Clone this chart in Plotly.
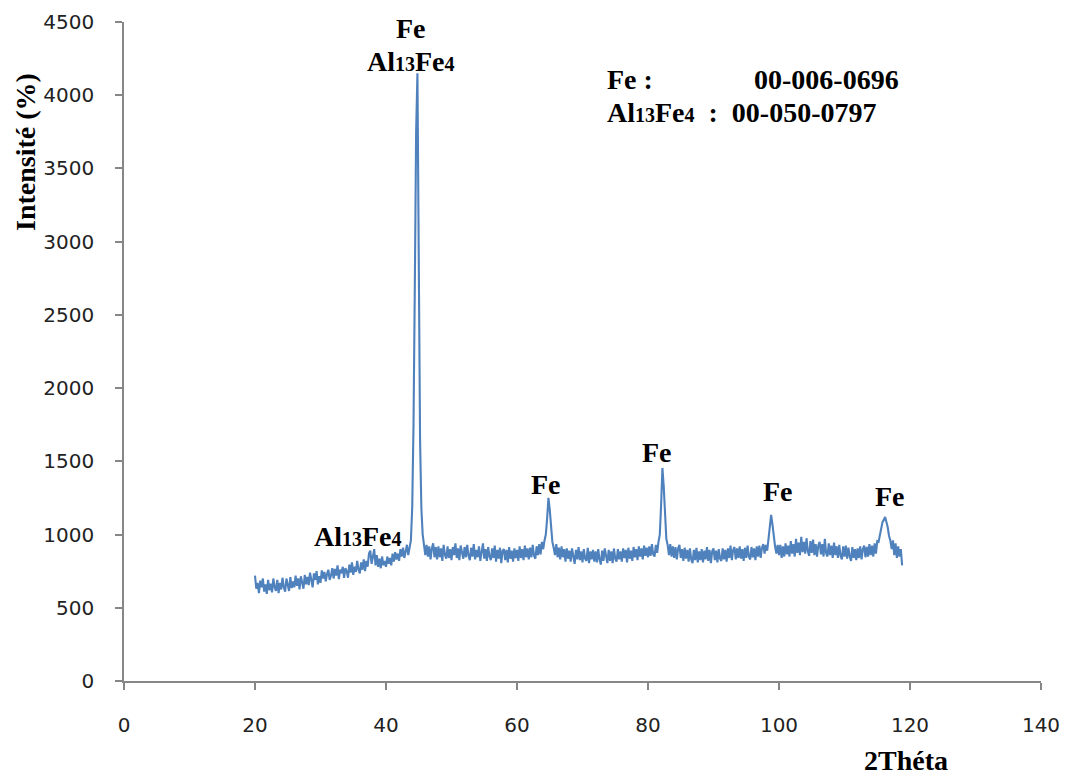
import plotly.graph_objects as go

# 2-theta scan: start angle and step of the diffractometer (degrees)
theta_start = 20.0
theta_step = 0.2

# Intensity, one value per 0.2 deg step (20.0 .. 118.8)
intensity = [
    720, 630, 670, 600, 685, 640, 700, 610, 660, 595,   # 20
    690, 620, 665, 605, 700, 640, 615, 690, 600, 670,   # 22
    625, 705, 640, 610, 700, 655, 615, 710, 635, 680,   # 24
    640, 720, 650, 700, 625, 715, 670, 630, 725, 660,   # 26
    710, 655, 740, 670, 640, 735, 690, 750, 660, 715,   # 28
    670, 755, 700, 745, 680, 730, 760, 690, 720, 770,   # 30
    700, 765, 720, 790, 695, 760, 735, 780, 705, 770,   # 32
    750, 705, 795, 740, 810, 725, 780, 745, 820, 760,   # 34
    735, 810, 760, 830, 750, 820, 780, 870, 890, 800,   # 36
    860, 900, 790, 860, 780, 835, 770, 850, 790, 820,   # 38
    780, 850, 800, 840, 790, 870, 815, 880, 830, 870,   # 40
    820, 900, 850, 910, 840, 895, 930, 860, 920, 960,   # 42
    1180, 1750, 2700, 3750, 4150, 2750, 1650, 1180, 1000, 930,  # 44
    860, 930, 850, 920, 830, 905, 940, 845, 915, 830,   # 46
    920, 845, 905, 820, 930, 860, 835, 920, 840, 900,   # 48
    825, 915, 860, 940, 840, 905, 825, 925, 870, 835,   # 50
    915, 845, 930, 855, 825, 910, 850, 935, 830, 895,   # 52
    845, 920, 820, 900, 940, 835, 900, 820, 915, 850,   # 54
    825, 905, 840, 925, 815, 895, 835, 910, 805, 890,   # 56
    900, 825, 895, 810, 915, 835, 890, 815, 905, 840,   # 58
    895, 820, 920, 840, 900, 825, 925, 845, 905, 830,   # 60
    910, 845, 930, 855, 835, 920, 860, 935, 865, 950,   # 62
    900, 960, 1000, 1110, 1250, 1170, 1030, 950, 910, 860,  # 64
    935, 845, 910, 830, 920, 845, 900, 815, 905, 835,   # 66
    890, 815, 905, 835, 800, 895, 830, 915, 825, 885,   # 68
    810, 900, 835, 820, 910, 805, 885, 830, 895, 815,   # 70
    885, 810, 900, 830, 795, 890, 820, 905, 835, 805,   # 72
    895, 820, 885, 805, 905, 835, 815, 900, 830, 885,   # 74
    815, 905, 840, 895, 810, 910, 835, 890, 820, 915,   # 76
    845, 900, 825, 920, 850, 905, 830, 925, 855, 910,   # 78
    845, 920, 855, 935, 865, 850, 930, 875, 950, 1000,  # 80
    1200, 1455, 1330, 1090, 970, 930, 860, 935, 850, 920,  # 82
    840, 915, 830, 905, 930, 840, 900, 820, 910, 835,   # 84
    895, 815, 905, 830, 805, 895, 825, 910, 810, 885,   # 86
    825, 900, 810, 890, 830, 915, 820, 895, 805, 885,   # 88
    905, 825, 890, 810, 900, 835, 820, 905, 830, 895,   # 90
    815, 905, 840, 925, 825, 895, 915, 830, 905, 840,   # 92
    920, 835, 900, 820, 910, 840, 925, 850, 830, 915,   # 94
    845, 905, 825, 920, 850, 925, 840, 910, 935, 870,   # 96
    930, 890, 960, 1030, 1135, 1070, 980, 920, 870, 930,  # 98
    860, 930, 840, 920, 850, 940, 865, 925, 850, 955,   # 100
    870, 935, 850, 970, 875, 945, 860, 985, 880, 950,   # 102
    870, 975, 885, 855, 955, 875, 965, 860, 935, 850,   # 104
    925, 950, 865, 935, 850, 970, 870, 850, 940, 860,   # 106
    925, 840, 945, 860, 920, 840, 930, 855, 830, 920,   # 108
    850, 925, 835, 910, 850, 820, 915, 840, 900, 825,   # 110
    905, 840, 920, 830, 900, 925, 845, 915, 850, 935,   # 112
    860, 925, 850, 940, 870, 955, 950, 1000, 1040, 1085,  # 114
    1100, 1120, 1085, 1050, 990, 960, 900, 960, 860, 940,  # 116
    840, 920, 850, 900, 790,                            # 118
]
two_theta = [round(theta_start + theta_step * i, 1) for i in range(len(intensity))]

# Peak labels (text, x, y)
sub = "<span style='font-size:20px'>{}</span>"
al13fe4 = "Al" + sub.format("13") + "Fe" + sub.format("4")
peak_labels = ["Fe", al13fe4, al13fe4, "Fe", "Fe", "Fe", "Fe"]
peak_label_x = [43.8, 43.8, 35.7, 64.4, 81.4, 99.8, 116.9]
peak_label_y = [4459, 4227, 990, 1345, 1557, 1297, 1263]

x_ticks = [0, 20, 40, 60, 80, 100, 120, 140]
y_ticks = [0, 500, 1000, 1500, 2000, 2500, 3000, 3500, 4000, 4500]

W, H = 1066, 776
# plot-area geometry in pixels
L, R, T, B = 124, 1041, 22, 681

fig = go.Figure()
fig.add_trace(go.Scatter(
    x=two_theta, y=intensity, mode="lines",
    line=dict(color="#4F81BD", width=2.1),
    showlegend=False,
))

serif = "Liberation Serif"
anns = []
for t, xx, yy in zip(peak_labels, peak_label_x, peak_label_y):
    anns.append(dict(x=xx, y=yy, xref="x", yref="y", text="<b>" + t + "</b>",
                     showarrow=False, font=dict(family=serif, size=28, color="black")))

# reference cards
anns.append(dict(x=73.4, y=4104, xref="x", yref="y", xanchor="left",
                 text="<b>Fe :</b>", showarrow=False,
                 font=dict(family=serif, size=28, color="black")))
anns.append(dict(x=95.9, y=4104, xref="x", yref="y", xanchor="left",
                 text="<b>00-006-0696</b>", showarrow=False,
                 font=dict(family=serif, size=28, color="black")))
anns.append(dict(x=73.4, y=3879, xref="x", yref="y", xanchor="left",
                 text="<b>" + al13fe4 + "  :  00-050-0797</b>", showarrow=False,
                 font=dict(family=serif, size=28, color="black")))

# axis titles (pixel centres converted to plot-area fractions)
anns.append(dict(x=(25 - L) / (R - L), y=(B - 152) / (B - T),
                 xref="paper", yref="paper",
                 text="<b>Intensité (%)</b>", textangle=-90, showarrow=False,
                 xanchor="center", yanchor="middle",
                 font=dict(family=serif, size=28, color="black")))
anns.append(dict(x=(906 - L) / (R - L), y=(B - 760) / (B - T),
                 xref="paper", yref="paper",
                 text="<b>2Théta</b>", showarrow=False,
                 xanchor="center", yanchor="middle",
                 font=dict(family=serif, size=28, color="black")))

axis_common = dict(
    showgrid=False, zeroline=False, showline=True, automargin=False,
    linecolor="#878787", linewidth=1.5,
    ticks="outside", ticklen=7, tickcolor="#878787", tickwidth=1.5,
    ticklabeloverflow="allow",
    tickfont=dict(family="DejaVu Sans", size=20, color="#222222"),
)

fig.update_layout(
    width=W, height=H,
    margin=dict(l=L, r=W - R, t=T, b=H - B, autoexpand=False),
    paper_bgcolor="white", plot_bgcolor="white",
    xaxis=dict(range=[0, 140], tickvals=x_ticks, ticklabelstandoff=18, **axis_common),
    yaxis=dict(range=[0, 4500], tickvals=y_ticks, ticklabelstandoff=17, **axis_common),
    annotations=anns,
)

# remove the browser's default 8px body margin so the figure fills the window
fig.write_html("out.html",
               config={"displayModeBar": False},
               post_script="document.body.style.margin='0px';"
                           "document.body.style.overflow='hidden';")
